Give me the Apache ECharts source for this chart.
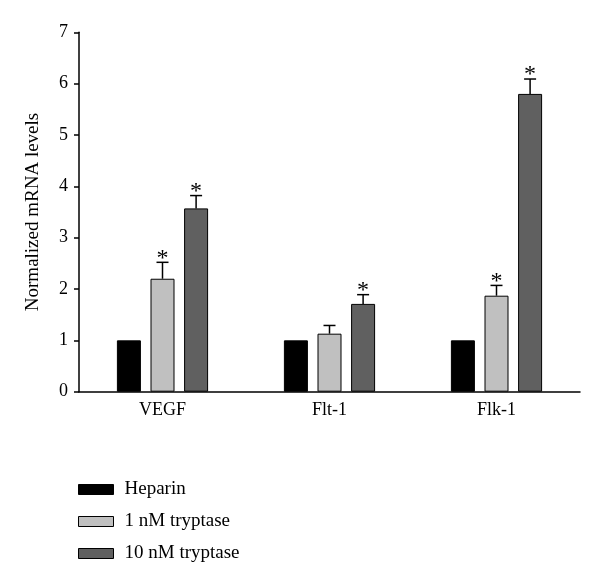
<!DOCTYPE html>
<html><head><meta charset="utf-8">
<script src="https://cdn.jsdelivr.net/npm/echarts@6/dist/echarts.min.js"></script>
<style>html,body{margin:0;padding:0;background:#fff}#c{width:600px;height:584px}</style>
</head><body><div id="c"></div>
<script>
const categories = ['VEGF', 'Flt-1', 'Flk-1'];
const seriesNames = ['Heparin', '1 nM tryptase', '10 nM tryptase'];
const heparin = [1, 1, 1];
const tryp1 = [2.20, 1.13, 1.87];
const tryp10 = [3.57, 1.71, 5.80];
const heparinErr = [0, 0, 0];
const tryp1Err = [0.32, 0.16, 0.20];
const tryp10Err = [0.25, 0.18, 0.29];
const tryp1Star = [true, false, true];
const tryp10Star = [true, true, true];
const yTicks = [0, 1, 2, 3, 4, 5, 6, 7];

const colors = ['#000000', '#c0c0c0', '#606060'];
const FONT = 'Liberation Serif';
const BW = 24, GAPR = 0.4;
const vals = [heparin, tryp1, tryp10];
const errs = [heparinErr, tryp1Err, tryp10Err];
const stars = [[false,false,false], tryp1Star, tryp10Star];

const chart = echarts.init(document.getElementById('c'));
const barSeries = seriesNames.map((n, i) => ({
  name: n, type: 'bar', data: vals[i], barWidth: BW, barGap: (GAPR*100)+'%',
  itemStyle: { color: colors[i], borderColor: '#000', borderWidth: 1 },
  z: 2
}));
const errData = [];
for (let s = 1; s < 3; s++) for (let c = 0; c < 3; c++) errData.push([c, vals[s][c], errs[s][c], s, stars[s][c] ? 1 : 0]);
const errSeries = {
  type: 'custom', data: errData, z: 3, silent: true,
  renderItem: (params, api) => {
    const c = api.value(0), v = api.value(1), e = api.value(2), s = api.value(3), st = api.value(4);
    const off = (s - 1) * BW * (1 + GAPR);
    const p0 = api.coord([c, v]);
    const p1 = api.coord([c, v + e]);
    const x = p0[0] + off;
    const children = [
      { type: 'line', shape: { x1: x, y1: p0[1], x2: x, y2: p1[1] }, style: { stroke: '#000', lineWidth: 1.5 } },
      { type: 'line', shape: { x1: x - 6, y1: p1[1], x2: x + 6, y2: p1[1] }, style: { stroke: '#000', lineWidth: 1.5 } }
    ];
    if (st) children.push({ type: 'text', style: { text: '*', x: x, y: p1[1] + 8, align: 'center', verticalAlign: 'bottom', font: '24px "' + FONT + '"', fill: '#000' } });
    return { type: 'group', children };
  }
};
chart.setOption({
  animation: false,
  grid: { left: 79, right: 20, top: 32.3, bottom: 192.3, containLabel: false },
  legend: {
    orient: 'vertical', left: 78, top: 480, padding: 0, itemWidth: 35, itemHeight: 10, itemGap: 13,
    data: seriesNames.map((n, i) => ({ name: n, icon: 'rect', itemStyle: { color: colors[i], borderColor: '#000', borderWidth: 1 } })),
    textStyle: { fontFamily: FONT, fontSize: 19, color: '#000', padding: [0, 0, 0, 6] }
  },
  xAxis: {
    type: 'category', data: categories,
    axisLine: { lineStyle: { color: '#000', width: 1.5 } },
    axisTick: { alignWithLabel: true, length: 5, lineStyle: { color: '#000', width: 1.5 } },
    axisLabel: { fontFamily: FONT, fontSize: 18, color: '#000', margin: 10 }
  },
  yAxis: {
    type: 'value', min: 0, max: 7, interval: 1,
    name: 'Normalized mRNA levels', nameLocation: 'middle', nameGap: 36, nameRotate: 90,
    nameTextStyle: { fontFamily: FONT, fontSize: 19, color: '#000' },
    splitLine: { show: false },
    axisLine: { show: true, lineStyle: { color: '#000', width: 1.5 } },
    axisTick: { show: true, length: 5, lineStyle: { color: '#000', width: 1.5 } },
    axisLabel: { fontFamily: FONT, fontSize: 18, color: '#000', margin: 11 }
  },
  series: [...barSeries, errSeries]
});
</script></body></html>
